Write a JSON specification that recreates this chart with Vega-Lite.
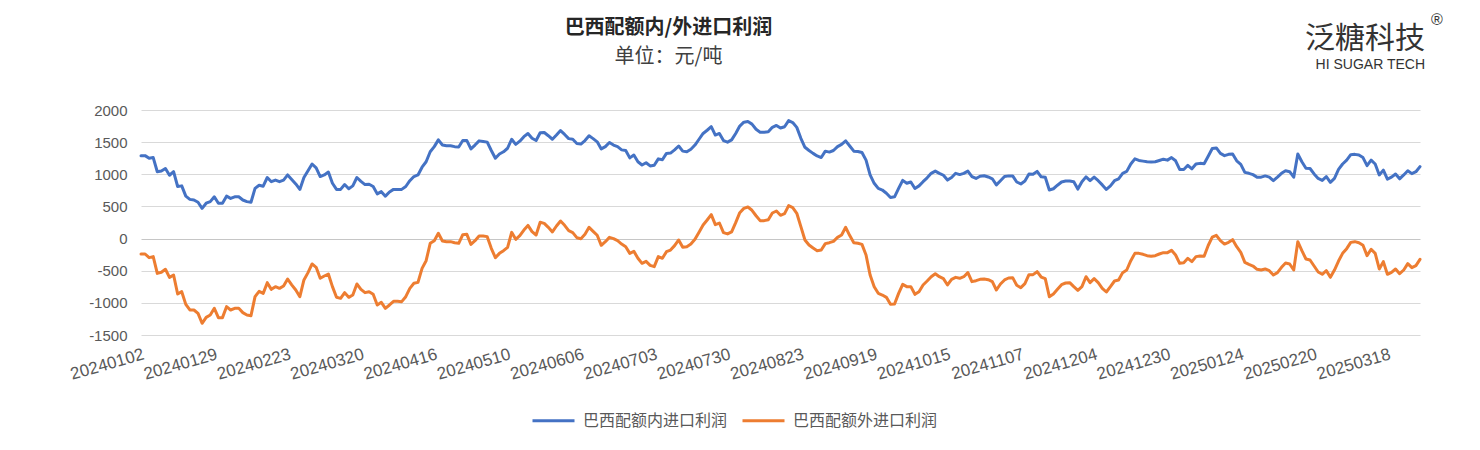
{
"$schema": "https://vega.github.io/schema/vega-lite/v6.json",
"width": 1279,
"height": 225,
"autosize": {"type": "none"},
"padding": {"left": 141, "top": 110, "right": 60, "bottom": 115},
"background": "white",
"config": {"view": {"stroke": null}, "font": "Noto Sans CJK SC"},
"title": {"text": "巴西配额内/外进口利润", "subtitle": "单位：元/吨", "anchor": "middle", "dx": -112, "dy": 55, "offset": 0, "fontSize": 20, "fontWeight": "bold", "color": "#262626", "font": "Noto Sans CJK SC", "subtitleFont": "Noto Sans CJK SC", "subtitleFontSize": 20, "subtitleColor": "#404040", "subtitlePadding": 9},
"layer": [
{
"data": {"values": [
{"date":"20240102","巴西配额内进口利润":1290,"巴西配额外进口利润":-240},
{"date":"20240103","巴西配额内进口利润":1290,"巴西配额外进口利润":-240},
{"date":"20240104","巴西配额内进口利润":1250,"巴西配额外进口利润":-297},
{"date":"20240105","巴西配额内进口利润":1260,"巴西配额外进口利润":-281},
{"date":"20240108","巴西配额内进口利润":1040,"巴西配额外进口利润":-541},
{"date":"20240109","巴西配额内进口利润":1050,"巴西配额外进口利润":-525},
{"date":"20240110","巴西配额内进口利润":1090,"巴西配额外进口利润":-478},
{"date":"20240111","巴西配额内进口利润":985,"巴西配额外进口利润":-603},
{"date":"20240112","巴西配额内进口利润":1040,"巴西配额外进口利润":-567},
{"date":"20240116","巴西配额内进口利润":810,"巴西配额外进口利润":-862},
{"date":"20240117","巴西配额内进口利润":820,"巴西配额外进口利润":-826},
{"date":"20240118","巴西配额内进口利润":660,"巴西配额外进口利润":-1023},
{"date":"20240119","巴西配额内进口利润":610,"巴西配额外进口利润":-1111},
{"date":"20240122","巴西配额内进口利润":600,"巴西配额外进口利润":-1111},
{"date":"20240123","巴西配额内进口利润":565,"巴西配额外进口利润":-1163},
{"date":"20240124","巴西配额内进口利润":470,"巴西配额外进口利润":-1318},
{"date":"20240125","巴西配额内进口利润":550,"巴西配额外进口利润":-1225},
{"date":"20240126","巴西配额内进口利润":575,"巴西配额外进口利润":-1189},
{"date":"20240129","巴西配额内进口利润":650,"巴西配额外进口利润":-1085},
{"date":"20240130","巴西配额内进口利润":550,"巴西配额外进口利润":-1230},
{"date":"20240131","巴西配额内进口利润":550,"巴西配额外进口利润":-1230},
{"date":"20240201","巴西配额内进口利润":660,"巴西配额外进口利润":-1059},
{"date":"20240202","巴西配额内进口利润":625,"巴西配额外进口利润":-1111},
{"date":"20240205","巴西配额内进口利润":650,"巴西配额外进口利润":-1085},
{"date":"20240206","巴西配额内进口利润":650,"巴西配额外进口利润":-1085},
{"date":"20240207","巴西配额内进口利润":600,"巴西配额外进口利润":-1152},
{"date":"20240208","巴西配额内进口利润":575,"巴西配额外进口利润":-1189},
{"date":"20240209","巴西配额内进口利润":565,"巴西配额外进口利润":-1199},
{"date":"20240212","巴西配额内进口利润":780,"巴西配额外进口利润":-904},
{"date":"20240213","巴西配额内进口利润":830,"巴西配额外进口利润":-821},
{"date":"20240214","巴西配额内进口利润":815,"巴西配额外进口利润":-852},
{"date":"20240215","巴西配额内进口利润":950,"巴西配额外进口利润":-686},
{"date":"20240216","巴西配额内进口利润":885,"巴西配额外进口利润":-790},
{"date":"20240220","巴西配额内进口利润":910,"巴西配额外进口利润":-748},
{"date":"20240221","巴西配额内进口利润":885,"巴西配额外进口利润":-774},
{"date":"20240222","巴西配额内进口利润":910,"巴西配额外进口利润":-738},
{"date":"20240223","巴西配额内进口利润":990,"巴西配额外进口利润":-629},
{"date":"20240226","巴西配额内进口利润":920,"巴西配额外进口利润":-720},
{"date":"20240227","巴西配额内进口利润":850,"巴西配额外进口利润":-800},
{"date":"20240228","巴西配额内进口利润":765,"巴西配额外进口利润":-904},
{"date":"20240229","巴西配额内进口利润":950,"巴西配额外进口利润":-644},
{"date":"20240301","巴西配额内进口利润":1055,"巴西配额外进口利润":-530},
{"date":"20240304","巴西配额内进口利润":1160,"巴西配额外进口利润":-395},
{"date":"20240305","巴西配额内进口利润":1100,"巴西配额外进口利润":-447},
{"date":"20240306","巴西配额内进口利润":965,"巴西配额外进口利润":-618},
{"date":"20240307","巴西配额内进口利润":990,"巴西配额外进口利润":-582},
{"date":"20240308","巴西配额内进口利润":1035,"巴西配额外进口利润":-551},
{"date":"20240311","巴西配额内进口利润":860,"巴西配额外进口利润":-748},
{"date":"20240312","巴西配额内进口利润":765,"巴西配额外进口利润":-914},
{"date":"20240313","巴西配额内进口利润":765,"巴西配额外进口利润":-930},
{"date":"20240314","巴西配额内进口利润":840,"巴西配额外进口利润":-841},
{"date":"20240315","巴西配额内进口利润":775,"巴西配额外进口利润":-914},
{"date":"20240318","巴西配额内进口利润":820,"巴西配额外进口利润":-878},
{"date":"20240319","巴西配额内进口利润":950,"巴西配额外进口利润":-707},
{"date":"20240320","巴西配额内进口利润":890,"巴西配额外进口利润":-790},
{"date":"20240321","巴西配额内进口利润":840,"巴西配额外进口利润":-841},
{"date":"20240322","巴西配额内进口利润":845,"巴西配额外进口利润":-826},
{"date":"20240325","巴西配额内进口利润":810,"巴西配额外进口利润":-867},
{"date":"20240326","巴西配额内进口利润":695,"巴西配额外进口利润":-1033},
{"date":"20240327","巴西配额内进口利润":730,"巴西配额外进口利润":-992},
{"date":"20240328","巴西配额内进口利润":660,"巴西配额外进口利润":-1085},
{"date":"20240401","巴西配额内进口利润":725,"巴西配额外进口利润":-1033},
{"date":"20240402","巴西配额内进口利润":765,"巴西配额外进口利润":-976},
{"date":"20240403","巴西配额内进口利润":765,"巴西配额外进口利润":-976},
{"date":"20240404","巴西配额内进口利润":765,"巴西配额外进口利润":-981},
{"date":"20240405","巴西配额内进口利润":810,"巴西配额外进口利润":-904},
{"date":"20240408","巴西配额内进口利润":900,"巴西配额外进口利润":-774},
{"date":"20240409","巴西配额内进口利润":965,"巴西配额外进口利润":-696},
{"date":"20240410","巴西配额内进口利润":990,"巴西配额外进口利润":-681},
{"date":"20240411","巴西配额内进口利润":1110,"巴西配额外进口利润":-463},
{"date":"20240412","巴西配额内进口利润":1195,"巴西配额外进口利润":-344},
{"date":"20240415","巴西配额内进口利润":1350,"巴西配额外进口利润":-74},
{"date":"20240416","巴西配额内进口利润":1430,"巴西配额外进口利润":-33},
{"date":"20240417","巴西配额内进口利润":1535,"巴西配额外进口利润":82},
{"date":"20240418","巴西配额内进口利润":1455,"巴西配额外进口利润":-38},
{"date":"20240419","巴西配额内进口利润":1445,"巴西配额外进口利润":-48},
{"date":"20240422","巴西配额内进口利润":1445,"巴西配额外进口利润":-48},
{"date":"20240423","巴西配额内进口利润":1430,"巴西配额外进口利润":-64},
{"date":"20240424","巴西配额内进口利润":1425,"巴西配额外进口利润":-74},
{"date":"20240425","巴西配额内进口利润":1525,"巴西配额外进口利润":61},
{"date":"20240426","巴西配额内进口利润":1525,"巴西配额外进口利润":66},
{"date":"20240429","巴西配额内进口利润":1395,"巴西配额外进口利润":-90},
{"date":"20240430","巴西配额内进口利润":1455,"巴西配额外进口利润":-33},
{"date":"20240501","巴西配额内进口利润":1520,"巴西配额外进口利润":40},
{"date":"20240502","巴西配额内进口利润":1510,"巴西配额外进口利润":40},
{"date":"20240503","巴西配额内进口利润":1500,"巴西配额外进口利润":30},
{"date":"20240506","巴西配额内进口利润":1370,"巴西配额外进口利润":-152},
{"date":"20240507","巴西配额内进口利润":1250,"巴西配额外进口利润":-297},
{"date":"20240508","巴西配额内进口利润":1315,"巴西配额外进口利润":-230},
{"date":"20240509","巴西配额内进口利润":1350,"巴西配额外进口利润":-188},
{"date":"20240510","巴西配额内进口利润":1405,"巴西配额外进口利润":-136},
{"date":"20240513","巴西配额内进口利润":1545,"巴西配额外进口利润":97},
{"date":"20240514","巴西配额内进口利润":1465,"巴西配额外进口利润":-12},
{"date":"20240515","巴西配额内进口利润":1515,"巴西配额外进口利润":45},
{"date":"20240516","巴西配额内进口利润":1585,"巴西配额外进口利润":133},
{"date":"20240517","巴西配额内进口利润":1635,"巴西配额外进口利润":205},
{"date":"20240520","巴西配额内进口利润":1560,"巴西配额外进口利润":108},
{"date":"20240521","巴西配额内进口利润":1525,"巴西配额外进口利润":56},
{"date":"20240522","巴西配额内进口利润":1645,"巴西配额外进口利润":253},
{"date":"20240523","巴西配额内进口利润":1650,"巴西配额外进口利润":237},
{"date":"20240524","巴西配额内进口利润":1600,"巴西配额外进口利润":175},
{"date":"20240528","巴西配额内进口利润":1545,"巴西配额外进口利润":103},
{"date":"20240529","巴西配额内进口利润":1610,"巴西配额外进口利润":196},
{"date":"20240530","巴西配额内进口利润":1680,"巴西配额外进口利润":273},
{"date":"20240531","巴西配额内进口利润":1620,"巴西配额外进口利润":206},
{"date":"20240603","巴西配额内进口利润":1555,"巴西配额外进口利润":123},
{"date":"20240604","巴西配额内进口利润":1545,"巴西配额外进口利润":92},
{"date":"20240605","巴西配额内进口利润":1480,"巴西配额外进口利润":14},
{"date":"20240606","巴西配额内进口利润":1470,"巴西配额外进口利润":-2},
{"date":"20240607","巴西配额内进口利润":1525,"巴西配额外进口利润":66},
{"date":"20240610","巴西配额内进口利润":1600,"巴西配额外进口利润":175},
{"date":"20240611","巴西配额内进口利润":1555,"巴西配额外进口利润":113},
{"date":"20240612","巴西配额内进口利润":1505,"巴西配额外进口利润":51},
{"date":"20240613","巴西配额内进口利润":1395,"巴西配额外进口利润":-105},
{"date":"20240614","巴西配额内进口利润":1430,"巴西配额外进口利润":-48},
{"date":"20240617","巴西配额内进口利润":1495,"巴西配额外进口利润":19},
{"date":"20240618","巴西配额内进口利润":1455,"巴西配额外进口利润":-2},
{"date":"20240620","巴西配额内进口利润":1430,"巴西配额外进口利润":-33},
{"date":"20240621","巴西配额内进口利润":1380,"巴西配额外进口利润":-85},
{"date":"20240624","巴西配额内进口利润":1370,"巴西配额外进口利润":-126},
{"date":"20240625","巴西配额内进口利润":1255,"巴西配额外进口利润":-230},
{"date":"20240626","巴西配额内进口利润":1300,"巴西配额外进口利润":-199},
{"date":"20240627","巴西配额内进口利润":1195,"巴西配额外进口利润":-307},
{"date":"20240628","巴西配额内进口利润":1145,"巴西配额外进口利润":-385},
{"date":"20240701","巴西配额内进口利润":1180,"巴西配额外进口利润":-354},
{"date":"20240702","巴西配额内进口利润":1130,"巴西配额外进口利润":-416},
{"date":"20240703","巴西配额内进口利润":1140,"巴西配额外进口利润":-437},
{"date":"20240705","巴西配额内进口利润":1240,"巴西配额外进口利润":-281},
{"date":"20240708","巴西配额内进口利润":1225,"巴西配额外进口利润":-307},
{"date":"20240709","巴西配额内进口利润":1325,"巴西配额外进口利润":-204},
{"date":"20240710","巴西配额内进口利润":1330,"巴西配额外进口利润":-178},
{"date":"20240711","巴西配额内进口利润":1380,"巴西配额外进口利润":-110},
{"date":"20240712","巴西配额内进口利润":1440,"巴西配额外进口利润":-22},
{"date":"20240715","巴西配额内进口利润":1360,"巴西配额外进口利润":-136},
{"date":"20240716","巴西配额内进口利润":1350,"巴西配额外进口利润":-126},
{"date":"20240717","巴西配额内进口利润":1390,"巴西配额外进口利润":-85},
{"date":"20240718","巴西配额内进口利润":1455,"巴西配额外进口利润":-12},
{"date":"20240719","巴西配额内进口利润":1545,"巴西配额外进口利润":97},
{"date":"20240722","巴西配额内进口利润":1635,"巴西配额外进口利润":211},
{"date":"20240723","巴西配额内进口利润":1685,"巴西配额外进口利润":289},
{"date":"20240724","巴西配额内进口利润":1740,"巴西配额外进口利润":372},
{"date":"20240725","巴西配额内进口利润":1610,"巴西配额外进口利润":216},
{"date":"20240726","巴西配额内进口利润":1635,"巴西配额外进口利润":242},
{"date":"20240729","巴西配额内进口利润":1525,"巴西配额外进口利润":92},
{"date":"20240730","巴西配额内进口利润":1500,"巴西配额外进口利润":72},
{"date":"20240731","巴西配额内进口利润":1535,"巴西配额外进口利润":103},
{"date":"20240801","巴西配额内进口利润":1635,"巴西配额外进口利润":248},
{"date":"20240802","巴西配额内进口利润":1750,"巴西配额外进口利润":403},
{"date":"20240805","巴西配额内进口利润":1810,"巴西配额外进口利润":470},
{"date":"20240806","巴西配额内进口利润":1820,"巴西配额外进口利润":491},
{"date":"20240807","巴西配额内进口利润":1780,"巴西配额外进口利润":440},
{"date":"20240808","巴西配额内进口利润":1700,"巴西配额外进口利润":355},
{"date":"20240809","巴西配额内进口利润":1655,"巴西配额外进口利润":279},
{"date":"20240812","巴西配额内进口利润":1655,"巴西配额外进口利润":279},
{"date":"20240813","巴西配额内进口利润":1660,"巴西配额外进口利润":294},
{"date":"20240814","巴西配额内进口利润":1730,"巴西配额外进口利润":398},
{"date":"20240815","巴西配额内进口利润":1760,"巴西配额外进口利润":429},
{"date":"20240816","巴西配额内进口利润":1720,"巴西配额外进口利润":362},
{"date":"20240819","巴西配额内进口利润":1740,"巴西配额外进口利润":387},
{"date":"20240820","巴西配额内进口利润":1835,"巴西配额外进口利润":512},
{"date":"20240821","巴西配额内进口利润":1805,"巴西配额外进口利润":481},
{"date":"20240822","巴西配额内进口利润":1730,"巴西配额外进口利润":393},
{"date":"20240823","巴西配额内进口利润":1560,"巴西配额外进口利润":185},
{"date":"20240826","巴西配额内进口利润":1420,"巴西配额外进口利润":-22},
{"date":"20240827","巴西配额内进口利润":1370,"巴西配额外进口利润":-100},
{"date":"20240828","巴西配额内进口利润":1325,"巴西配额外进口利润":-147},
{"date":"20240829","巴西配额内进口利润":1285,"巴西配额外进口利润":-188},
{"date":"20240830","巴西配额内进口利润":1260,"巴西配额外进口利润":-178},
{"date":"20240903","巴西配额内进口利润":1360,"巴西配额外进口利润":-79},
{"date":"20240904","巴西配额内进口利润":1345,"巴西配额外进口利润":-64},
{"date":"20240905","巴西配额内进口利润":1370,"巴西配额外进口利润":-43},
{"date":"20240906","巴西配额内进口利润":1430,"巴西配额外进口利润":19},
{"date":"20240909","巴西配额内进口利润":1465,"巴西配额外进口利润":56},
{"date":"20240910","巴西配额内进口利润":1520,"巴西配额外进口利润":175},
{"date":"20240911","巴西配额内进口利润":1440,"巴西配额外进口利润":46},
{"date":"20240912","巴西配额内进口利润":1360,"巴西配额外进口利润":-64},
{"date":"20240913","巴西配额内进口利润":1355,"巴西配额外进口利润":-74},
{"date":"20240916","巴西配额内进口利润":1340,"巴西配额外进口利润":-90},
{"date":"20240917","巴西配额内进口利润":1220,"巴西配额外进口利润":-256},
{"date":"20240918","巴西配额内进口利润":990,"巴西配额外进口利润":-567},
{"date":"20240919","巴西配额内进口利润":860,"巴西配额外进口利润":-748},
{"date":"20240920","巴西配额内进口利润":780,"巴西配额外进口利润":-852},
{"date":"20240923","巴西配额内进口利润":755,"巴西配额外进口利润":-878},
{"date":"20240924","巴西配额内进口利润":705,"巴西配额外进口利润":-914},
{"date":"20240925","巴西配额内进口利润":640,"巴西配额外进口利润":-1023},
{"date":"20240926","巴西配额内进口利润":650,"巴西配额外进口利润":-1018},
{"date":"20240927","巴西配额内进口利润":780,"巴西配额外进口利润":-852},
{"date":"20240930","巴西配额内进口利润":905,"巴西配额外进口利润":-712},
{"date":"20241001","巴西配额内进口利润":860,"巴西配额外进口利润":-748},
{"date":"20241002","巴西配额内进口利润":880,"巴西配额外进口利润":-748},
{"date":"20241003","巴西配额内进口利润":780,"巴西配额外进口利润":-867},
{"date":"20241004","巴西配额内进口利润":820,"巴西配额外进口利润":-826},
{"date":"20241007","巴西配额内进口利润":885,"巴西配额外进口利润":-722},
{"date":"20241008","巴西配额内进口利润":945,"巴西配额外进口利润":-660},
{"date":"20241009","巴西配额内进口利润":1015,"巴西配额外进口利润":-593},
{"date":"20241010","巴西配额内进口利润":1050,"巴西配额外进口利润":-546},
{"date":"20241011","巴西配额内进口利润":1015,"巴西配额外进口利润":-593},
{"date":"20241014","巴西配额内进口利润":985,"巴西配额外进口利润":-624},
{"date":"20241015","巴西配额内进口利润":910,"巴西配额外进口利润":-722},
{"date":"20241016","巴西配额内进口利润":950,"巴西配额外进口利润":-634},
{"date":"20241017","巴西配额内进口利润":1015,"巴西配额外进口利润":-603},
{"date":"20241018","巴西配额内进口利润":995,"巴西配额外进口利润":-618},
{"date":"20241021","巴西配额内进口利润":1015,"巴西配额外进口利润":-593},
{"date":"20241022","巴西配额内进口利润":1050,"巴西配额外进口利润":-530},
{"date":"20241023","巴西配额内进口利润":965,"巴西配额外进口利润":-670},
{"date":"20241024","巴西配额内进口利润":935,"巴西配额外进口利润":-655},
{"date":"20241025","巴西配额内进口利润":970,"巴西配额外进口利润":-634},
{"date":"20241028","巴西配额内进口利润":978,"巴西配额外进口利润":-629},
{"date":"20241029","巴西配额内进口利润":958,"巴西配额外进口利润":-639},
{"date":"20241030","巴西配额内进口利润":930,"巴西配额外进口利润":-670},
{"date":"20241031","巴西配额内进口利润":835,"巴西配额外进口利润":-800},
{"date":"20241101","巴西配额内进口利润":900,"巴西配额外进口利润":-707},
{"date":"20241102","巴西配额内进口利润":965,"巴西配额外进口利润":-644},
{"date":"20241104","巴西配额内进口利润":975,"巴西配额外进口利润":-613},
{"date":"20241105","巴西配额内进口利润":975,"巴西配额外进口利润":-608},
{"date":"20241106","巴西配额内进口利润":880,"巴西配额外进口利润":-727},
{"date":"20241107","巴西配额内进口利润":850,"巴西配额外进口利润":-764},
{"date":"20241108","巴西配额内进口利润":895,"巴西配额外进口利润":-701},
{"date":"20241111","巴西配额内进口利润":1005,"巴西配额外进口利润":-561},
{"date":"20241112","巴西配额内进口利润":1000,"巴西配额外进口利润":-561},
{"date":"20241113","巴西配额内进口利润":1045,"巴西配额外进口利润":-515},
{"date":"20241114","巴西配额内进口利润":960,"巴西配额外进口利润":-598},
{"date":"20241115","巴西配额内进口利润":955,"巴西配额外进口利润":-624},
{"date":"20241118","巴西配额内进口利润":755,"巴西配额外进口利润":-904},
{"date":"20241119","巴西配额内进口利润":775,"巴西配额外进口利润":-862},
{"date":"20241120","巴西配额内进口利润":830,"巴西配额外进口利润":-790},
{"date":"20241121","巴西配额内进口利润":880,"巴西配额外进口利润":-717},
{"date":"20241122","巴西配额内进口利润":895,"巴西配额外进口利润":-691},
{"date":"20241125","巴西配额内进口利润":895,"巴西配额外进口利润":-686},
{"date":"20241126","巴西配额内进口利润":885,"巴西配额外进口利润":-748},
{"date":"20241127","巴西配额内进口利润":770,"巴西配额外进口利润":-805},
{"date":"20241129","巴西配额内进口利润":885,"巴西配额外进口利润":-748},
{"date":"20241202","巴西配额内进口利润":960,"巴西配额外进口利润":-593},
{"date":"20241203","巴西配额内进口利润":900,"巴西配额外进口利润":-686},
{"date":"20241204","巴西配额内进口利润":955,"巴西配额外进口利润":-624},
{"date":"20241205","巴西配额内进口利润":900,"巴西配额外进口利润":-686},
{"date":"20241206","巴西配额内进口利润":835,"巴西配额外进口利润":-774},
{"date":"20241209","巴西配额内进口利润":765,"巴西配额外进口利润":-831},
{"date":"20241210","巴西配额内进口利润":820,"巴西配额外进口利润":-748},
{"date":"20241211","巴西配额内进口利润":900,"巴西配额外进口利润":-660},
{"date":"20241212","巴西配额内进口利润":930,"巴西配额外进口利润":-644},
{"date":"20241213","巴西配额内进口利润":1015,"巴西配额外进口利润":-530},
{"date":"20241216","巴西配额内进口利润":1045,"巴西配额外进口利润":-489},
{"date":"20241217","巴西配额内进口利润":1160,"巴西配额外进口利润":-344},
{"date":"20241218","巴西配额内进口利润":1240,"巴西配额外进口利润":-230},
{"date":"20241219","巴西配额内进口利润":1215,"巴西配额外进口利润":-230},
{"date":"20241220","巴西配额内进口利润":1205,"巴西配额外进口利润":-245},
{"date":"20241223","巴西配额内进口利润":1195,"巴西配额外进口利润":-266},
{"date":"20241224","巴西配额内进口利润":1190,"巴西配额外进口利润":-276},
{"date":"20241225","巴西配额内进口利润":1195,"巴西配额外进口利润":-266},
{"date":"20241226","巴西配额内进口利润":1215,"巴西配额外进口利润":-240},
{"date":"20241227","巴西配额内进口利润":1235,"巴西配额外进口利润":-219},
{"date":"20241230","巴西配额内进口利润":1220,"巴西配额外进口利润":-219},
{"date":"20241231","巴西配额内进口利润":1260,"巴西配额外进口利润":-183},
{"date":"20250102","巴西配额内进口利润":1210,"巴西配额外进口利润":-256},
{"date":"20250103","巴西配额内进口利润":1075,"巴西配额外进口利润":-385},
{"date":"20250106","巴西配额内进口利润":1075,"巴西配额外进口利润":-375},
{"date":"20250107","巴西配额内进口利润":1140,"巴西配额外进口利润":-307},
{"date":"20250108","巴西配额内进口利润":1085,"巴西配额外进口利润":-359},
{"date":"20250109","巴西配额内进口利润":1160,"巴西配额外进口利润":-281},
{"date":"20250110","巴西配额内进口利润":1170,"巴西配额外进口利润":-270},
{"date":"20250113","巴西配额内进口利润":1165,"巴西配额外进口利润":-275},
{"date":"20250114","巴西配额内进口利润":1280,"巴西配额外进口利润":-108},
{"date":"20250115","巴西配额内进口利润":1400,"巴西配额外进口利润":22},
{"date":"20250116","巴西配额内进口利润":1410,"巴西配额外进口利润":50},
{"date":"20250117","巴西配额内进口利润":1325,"巴西配额外进口利润":-33},
{"date":"20250120","巴西配额内进口利润":1290,"巴西配额外进口利润":-85},
{"date":"20250121","巴西配额内进口利润":1310,"巴西配额外进口利润":-59},
{"date":"20250122","巴西配额内进口利润":1315,"巴西配额外进口利润":-17},
{"date":"20250123","巴西配额内进口利润":1210,"巴西配额外进口利润":-126},
{"date":"20250124","巴西配额内进口利润":1155,"巴西配额外进口利润":-214},
{"date":"20250127","巴西配额内进口利润":1030,"巴西配额外进口利润":-370},
{"date":"20250128","巴西配额内进口利润":1015,"巴西配额外进口利润":-401},
{"date":"20250129","巴西配额内进口利润":995,"巴西配额外进口利润":-427},
{"date":"20250130","巴西配额内进口利润":955,"巴西配额外进口利润":-478},
{"date":"20250131","巴西配额内进口利润":955,"巴西配额外进口利润":-489},
{"date":"20250203","巴西配额内进口利润":975,"巴西配额外进口利润":-473},
{"date":"20250204","巴西配额内进口利润":955,"巴西配额外进口利润":-499},
{"date":"20250205","巴西配额内进口利润":900,"巴西配额外进口利润":-567},
{"date":"20250206","巴西配额内进口利润":955,"巴西配额外进口利润":-530},
{"date":"20250207","巴西配额内进口利润":1015,"巴西配额外进口利润":-447},
{"date":"20250210","巴西配额内进口利润":1055,"巴西配额外进口利润":-380},
{"date":"20250211","巴西配额内进口利润":1040,"巴西配额外进口利润":-395},
{"date":"20250212","巴西配额内进口利润":955,"巴西配额外进口利润":-489},
{"date":"20250213","巴西配额内进口利润":1315,"巴西配额外进口利润":-48},
{"date":"20250214","巴西配额内进口利润":1195,"巴西配额外进口利润":-188},
{"date":"20250218","巴西配额内进口利润":1095,"巴西配额外进口利润":-318},
{"date":"20250219","巴西配额内进口利润":1090,"巴西配额外进口利润":-333},
{"date":"20250220","巴西配额内进口利润":1005,"巴西配额外进口利润":-427},
{"date":"20250221","巴西配额内进口利润":935,"巴西配额外进口利润":-520},
{"date":"20250224","巴西配额内进口利润":905,"巴西配额外进口利润":-556},
{"date":"20250225","巴西配额内进口利润":965,"巴西配额外进口利润":-499},
{"date":"20250226","巴西配额内进口利润":875,"巴西配额外进口利润":-603},
{"date":"20250227","巴西配额内进口利润":935,"巴西配额外进口利润":-489},
{"date":"20250228","巴西配额内进口利润":1075,"巴西配额外进口利润":-349},
{"date":"20250303","巴西配额内进口利润":1160,"巴西配额外进口利润":-230},
{"date":"20250304","巴西配额内进口利润":1220,"巴西配额外进口利润":-157},
{"date":"20250305","巴西配额内进口利润":1305,"巴西配额外进口利润":-59},
{"date":"20250306","巴西配额内进口利润":1310,"巴西配额外进口利润":-48},
{"date":"20250307","巴西配额内进口利润":1300,"巴西配额外进口利润":-64},
{"date":"20250310","巴西配额内进口利润":1260,"巴西配额外进口利润":-105},
{"date":"20250311","巴西配额内进口利润":1135,"巴西配额外进口利润":-266},
{"date":"20250312","巴西配额内进口利润":1220,"巴西配额外进口利润":-167},
{"date":"20250313","巴西配额内进口利润":1160,"巴西配额外进口利润":-230},
{"date":"20250314","巴西配额内进口利润":990,"巴西配额外进口利润":-473},
{"date":"20250317","巴西配额内进口利润":1065,"巴西配额外进口利润":-359},
{"date":"20250318","巴西配额内进口利润":925,"巴西配额外进口利润":-556},
{"date":"20250319","巴西配额内进口利润":955,"巴西配额外进口利润":-525},
{"date":"20250320","巴西配额内进口利润":1005,"巴西配额外进口利润":-473},
{"date":"20250321","巴西配额内进口利润":930,"巴西配额外进口利润":-546},
{"date":"20250324","巴西配额内进口利润":990,"巴西配额外进口利润":-489},
{"date":"20250325","巴西配额内进口利润":1055,"巴西配额外进口利润":-390},
{"date":"20250326","巴西配额内进口利润":1010,"巴西配额外进口利润":-452},
{"date":"20250327","巴西配额内进口利润":1040,"巴西配额外进口利润":-421},
{"date":"20250328","巴西配额内进口利润":1120,"巴西配额外进口利润":-323}
]},
"transform": [{"fold": ["巴西配额内进口利润", "巴西配额外进口利润"], "as": ["series", "value"]}],
"mark": {"type": "line", "strokeWidth": 3, "strokeJoin": "round", "strokeCap": "round"},
"encoding": {
"x": {"field": "date", "type": "ordinal", "sort": null, "scale": {"type": "point", "padding": 0},
"axis": {"values": ["20240102","20240129","20240223","20240320","20240416","20240510","20240606","20240703","20240730","20240823","20240919","20241015","20241107","20241204","20241230","20250124","20250220","20250318"], "title": null, "labelAngle": -16, "labelAlign": "right", "labelBaseline": "top", "labelPadding": 11, "labelFontSize": 17, "labelColor": "#595959", "labelFont": "Liberation Sans", "ticks": false, "domain": false, "grid": false, "labelOverlap": false, "labelBound": false}},
"y": {"field": "value", "type": "quantitative", "scale": {"domain": [-1500, 2000], "nice": false, "zero": false},
"axis": {"values": [-1500, -1000, -500, 0, 500, 1000, 1500, 2000], "tickCount": 8, "labelExpr": "'' + datum.value", "labelOverlap": false, "title": null, "grid": true, "gridColor": {"condition": {"test": "datum.value === 0", "value": "#C6C6C6"}, "value": "#D9D9D9"}, "gridWidth": 1, "domain": false, "ticks": false, "labelPadding": 14, "labelFontSize": 15, "labelColor": "#595959", "labelFont": "Liberation Sans"}},
"color": {"field": "series", "type": "nominal", "scale": {"domain": ["巴西配额内进口利润", "巴西配额外进口利润"], "range": ["#4472C4", "#ED7D31"]},
"legend": {"title": null, "orient": "none", "legendX": 390, "legendY": 288, "direction": "horizontal", "symbolType": "stroke", "symbolSize": 1764, "symbolStrokeWidth": 3, "labelFontSize": 16, "labelColor": "#595959", "labelFont": "Noto Sans CJK SC", "labelOffset": 7, "columnPadding": 8}}
}
},
{
"data": {"values": [{}]},
"mark": {"type": "text", "text": "泛糖科技", "align": "right", "baseline": "middle", "fontSize": 30, "color": "#333333", "font": "Noto Sans CJK SC", "dx": 5},
"encoding": {"x": {"datum": "20250328", "type": "ordinal"}, "y": {"datum": 3105, "type": "quantitative", "scale": {"domain": [-1500, 2000]}}}
},
{
"data": {"values": [{}]},
"mark": {"type": "text", "text": "®", "align": "center", "baseline": "middle", "fontSize": 16, "color": "#333333", "font": "Liberation Sans", "dx": 17},
"encoding": {"x": {"datum": "20250328", "type": "ordinal"}, "y": {"datum": 3400, "type": "quantitative", "scale": {"domain": [-1500, 2000]}}}
},
{
"data": {"values": [{}]},
"mark": {"type": "text", "text": "HI SUGAR TECH", "align": "right", "baseline": "middle", "fontSize": 14, "color": "#333333", "font": "Liberation Sans", "dx": 5},
"encoding": {"x": {"datum": "20250328", "type": "ordinal"}, "y": {"datum": 2700, "type": "quantitative", "scale": {"domain": [-1500, 2000]}}}
}
]
}
